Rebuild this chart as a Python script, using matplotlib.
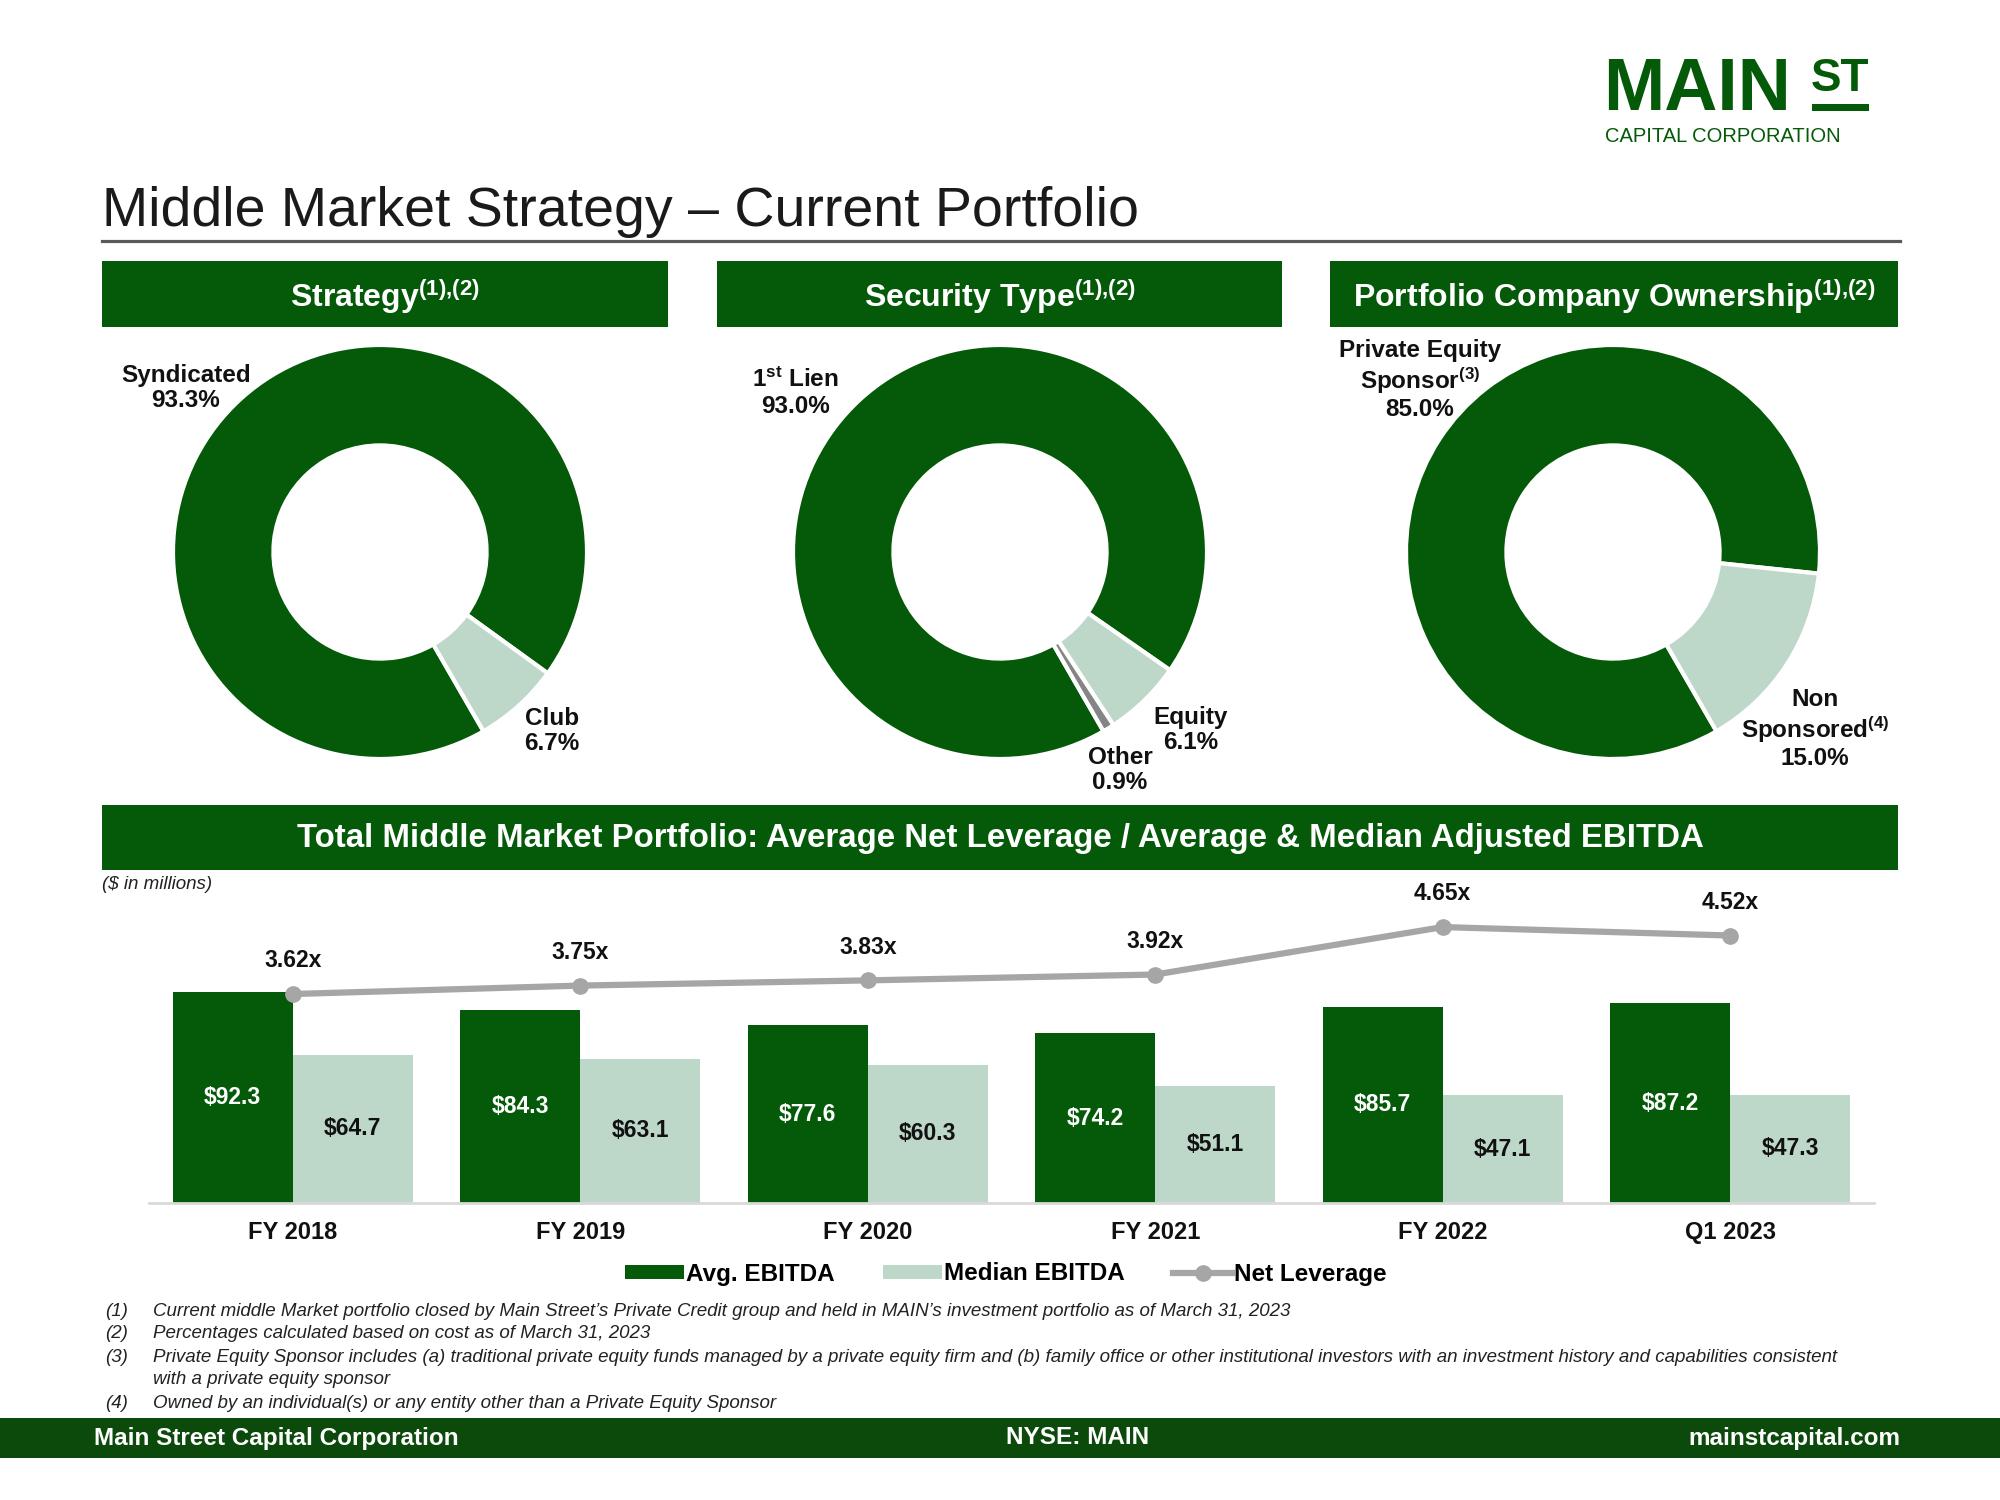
import matplotlib
matplotlib.use("Agg")
import matplotlib.pyplot as plt
from matplotlib.patches import Rectangle
from matplotlib.lines import Line2D
import numpy as np

plt.rcParams['font.family'] = ['Liberation Sans', 'DejaVu Sans']
plt.rcParams['mathtext.fontset'] = 'custom'
plt.rcParams['mathtext.rm'] = 'Liberation Sans:bold'
plt.rcParams['mathtext.it'] = 'Liberation Sans:bold'
plt.rcParams['mathtext.bf'] = 'Liberation Sans:bold'
plt.rcParams['mathtext.default'] = 'regular'

# ---------------- data ----------------
strategy_labels = ['Syndicated', 'Club']
strategy_values = [93.3, 6.7]

security_labels = ['1st Lien', 'Equity', 'Other']
security_values = [93.0, 6.1, 0.9]

ownership_labels = ['Private Equity Sponsor', 'Non Sponsored']
ownership_values = [85.0, 15.0]

periods = ['FY 2018', 'FY 2019', 'FY 2020', 'FY 2021', 'FY 2022', 'Q1 2023']
avg_ebitda = [92.3, 84.3, 77.6, 74.2, 85.7, 87.2]
median_ebitda = [64.7, 63.1, 60.3, 51.1, 47.1, 47.3]
net_leverage = [3.62, 3.75, 3.83, 3.92, 4.65, 4.52]

footnotes = [
    ("(1)", "Current middle Market portfolio closed by Main Street\u2019s Private Credit group and held in MAIN\u2019s investment portfolio as of March 31, 2023"),
    ("(2)", "Percentages calculated based on cost as of March 31, 2023"),
    ("(3)", "Private Equity Sponsor includes (a) traditional private equity funds managed by a private equity firm and (b) family office or other institutional investors with an investment history and capabilities consistent"),
    ("", "with a private equity sponsor"),
    ("(4)", "Owned by an individual(s) or any entity other than a Private Equity Sponsor"),
]

# ---------------- style ----------------
DARK = '#045A08'
LIGHT = '#BDD7C9'
OTHER = '#858585'
LINEC = '#A6A6A6'
FOOT = '#0C4A0C'
TXT = '#111111'

W, H = 2000, 1500
DPI = 100
fig = plt.figure(figsize=(W / DPI, H / DPI), dpi=DPI)


def fx(x):
    return x / W


def fy(y):
    return 1 - y / H


def rect(x0, y0, x1, y1, color):
    fig.add_artist(Rectangle((fx(x0), fy(y1)), (x1 - x0) / W, (y1 - y0) / H,
                             transform=fig.transFigure, color=color, lw=0))


SUP = "$^{(1){,}(2)}$"

# ---------------- logo ----------------
fig.text(fx(1603), fy(110), "MAIN", fontsize=53, fontweight='bold', color=DARK,
         ha='left', va='baseline')
fig.text(fx(1811), fy(91), "ST", fontsize=33, fontweight='bold', color=DARK,
         ha='left', va='baseline')
rect(1812, 104, 1869, 111, DARK)
fig.text(fx(1605), fy(142), "CAPITAL CORPORATION", fontsize=14.5, color=DARK,
         ha='left', va='baseline')

# ---------------- title ----------------
fig.text(fx(102), fy(226), "Middle Market Strategy \u2013 Current Portfolio",
         fontsize=40, color='#1a1a1a', ha='left', va='baseline')
fig.add_artist(Line2D([fx(102), fx(1900)], [fy(241), fy(241)], lw=2.3,
                      color='#595959', transform=fig.transFigure))

# ---------------- panel headers ----------------
headers = [
    ((102, 668), "Strategy" + SUP),
    ((717, 1282), "Security Type" + SUP),
    ((1330, 1898), "Portfolio Company Ownership" + SUP),
]
for (x0, x1), txt in headers:
    rect(x0, 261, x1, 327, DARK)
    fig.text(fx((x0 + x1) / 2), fy(296), txt, fontsize=23, fontweight='bold',
             color='white', ha='center', va='center')

# ---------------- donuts ----------------
R = 207
INNER = 0.515


def donut(cx, cy, values, colors):
    ax = fig.add_axes([fx(cx - R), fy(cy + R), 2 * R / W, 2 * R / H])
    ax.pie(values, colors=colors, startangle=-60, counterclock=False, radius=1,
           wedgeprops=dict(width=1 - INNER, edgecolor='white', linewidth=3))
    ax.set_xlim(-1, 1)
    ax.set_ylim(-1, 1)
    ax.set_aspect('equal')
    ax.axis('off')
    return ax


donut(380, 552, strategy_values, [DARK, LIGHT])
donut(1000, 552, security_values, [DARK, LIGHT, OTHER])
donut(1613, 552, ownership_values, [DARK, LIGHT])

lab_kw = dict(fontsize=17.5, fontweight='bold', color=TXT, ha='center',
              va='center', linespacing=1.15)
fig.text(fx(186), fy(388), f"{strategy_labels[0]}\n{strategy_values[0]:.1f}%", **lab_kw)
fig.text(fx(552), fy(731), f"{strategy_labels[1]}\n{strategy_values[1]:.1f}%", **lab_kw)
fig.text(fx(795), fy(393), f"1$^{{st}}$ Lien\n{security_values[0]:.1f}%", **lab_kw)
fig.text(fx(1191), fy(730), f"{security_labels[1]}\n{security_values[1]:.1f}%", **lab_kw)
fig.text(fx(1120), fy(770), f"{security_labels[2]}\n{security_values[2]:.1f}%", **lab_kw)
fig.text(fx(1420), fy(380), f"Private Equity\nSponsor$^{{(3)}}$\n{ownership_values[0]:.1f}%", **lab_kw)
fig.text(fx(1815), fy(729), f"Non\nSponsored$^{{(4)}}$\n{ownership_values[1]:.1f}%", **lab_kw)

# ---------------- bar chart ----------------
rect(102, 805, 1898, 870, DARK)
fig.text(fx(1000), fy(838),
         "Total Middle Market Portfolio: Average Net Leverage / Average & Median Adjusted EBITDA",
         fontsize=23.8, fontweight='bold', color='white', ha='center', va='center')
fig.text(fx(102), fy(884), "(\\$ in millions)", fontsize=13.5, style='italic',
         color='#222222', ha='left', va='center')

AX_L, AX_R, AX_B, AX_T = 149, 1874, 1203, 880
axb = fig.add_axes([fx(AX_L), fy(AX_B), (AX_R - AX_L) / W, (AX_B - AX_T) / H])
x = np.arange(len(periods))
bw = 0.417
b1 = axb.bar(x - bw / 2, avg_ebitda, bw, color=DARK, label='Avg. EBITDA', zorder=2)
b2 = axb.bar(x + bw / 2, median_ebitda, bw, color=LIGHT, label='Median EBITDA', zorder=2)
axb.set_xlim(-0.5, len(periods) - 0.5)
axb.set_ylim(0, (AX_B - AX_T) / 2.29)
for xi, v in zip(x, avg_ebitda):
    axb.text(xi - bw / 2, v / 2, f"\\${v:.1f}", ha='center', va='center',
             color='white', fontsize=16.5, fontweight='bold')
for xi, v in zip(x, median_ebitda):
    axb.text(xi + bw / 2, v / 2, f"\\${v:.1f}", ha='center', va='center',
             color=TXT, fontsize=16.5, fontweight='bold')
axb.set_xticks(x)
axb.set_xticklabels(periods, fontsize=17, fontweight='bold', color=TXT)
axb.tick_params(axis='x', length=0, pad=13)
axb.set_yticks([])
for s in ['top', 'left', 'right']:
    axb.spines[s].set_visible(False)
axb.spines['bottom'].set_color('#D9D9D9')
axb.spines['bottom'].set_linewidth(2)

ax2 = axb.twinx()
lo = 0.405
ax2.set_ylim(lo, lo + (AX_B - AX_T) / 65.0)
ln, = ax2.plot(x, net_leverage, color=LINEC, lw=4.5, marker='o', ms=11,
               label='Net Leverage', zorder=3)
for xi, v in zip(x, net_leverage):
    ax2.annotate(f"{v:.2f}x", (xi, v), xytext=(0, 24), textcoords='offset points',
                 ha='center', va='center', fontsize=16.5, fontweight='bold', color=TXT)
ax2.set_yticks([])
for s in ['top', 'left', 'right', 'bottom']:
    ax2.spines[s].set_visible(False)

leg = ax2.legend([b1, b2, ln], ['Avg. EBITDA', 'Median EBITDA', 'Net Leverage'],
                 loc='center', bbox_to_anchor=(fx(1006), fy(1274)),
                 bbox_transform=fig.transFigure, ncol=3, frameon=False,
                 prop=dict(size=17.5, weight='bold'), handlelength=2.4,
                 handleheight=0.55, handletextpad=0.1, columnspacing=2.0)

# ---------------- footnotes ----------------
ys = [1311, 1334, 1357, 1380, 1404]
for (num, txt), yy in zip(footnotes, ys):
    if num:
        fig.text(fx(105), fy(yy), num, fontsize=13.5, style='italic', color='#222222',
                 ha='left', va='center')
    fig.text(fx(153), fy(yy), txt, fontsize=13.5, style='italic', color='#222222',
             ha='left', va='center')

# ---------------- footer ----------------
rect(0, 1418, 2000, 1458, FOOT)
fig.text(fx(94), fy(1438), "Main Street Capital Corporation", fontsize=17.5,
         fontweight='bold', color='white', ha='left', va='center')
fig.text(fx(1078), fy(1438), "NYSE: MAIN", fontsize=17.5, fontweight='bold',
         color='white', ha='center', va='center')
fig.text(fx(1900), fy(1438), "mainstcapital.com", fontsize=17.5, fontweight='bold',
         color='white', ha='right', va='center')

fig.savefig("out.png", dpi=DPI, facecolor='white')
